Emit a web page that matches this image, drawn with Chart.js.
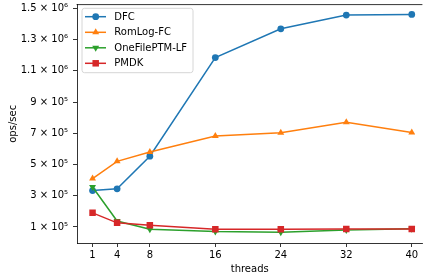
<!DOCTYPE html>
<html>
<head>
<meta charset="utf-8">
<script src="https://cdn.jsdelivr.net/npm/chart.js@4"></script>
<style>
  html, body { margin: 0; padding: 0; background: #fff; overflow: hidden; }
  body { width: 423px; height: 280px; }
  #wrap { width: 427px; height: 280px; position: relative; }
</style>
</head>
<body>
<div id="wrap"><canvas id="c"></canvas></div>
<script>
const threads = [1, 4, 8, 16, 24, 32, 40];
const seriesNames = ['DFC', 'RomLog-FC', 'OneFilePTM-LF', 'PMDK'];
const dfc = [333000, 344000, 553000, 1185000, 1369000, 1457000, 1461000];
const romlog = [410000, 520000, 580000, 683000, 703000, 771000, 705000];
const onefile = [356000, 138000, 85000, 70000, 66000, 80000, 88000];
const pmdk = [190000, 126000, 111000, 85000, 85000, 87000, 86000];
const xTicks = [1, 4, 8, 16, 24, 32, 40];
const yTicks = [100000, 300000, 500000, 700000, 900000, 1100000, 1300000, 1500000];
const yTickLabels = ['1 × 10⁵', '3 × 10⁵', '5 × 10⁵', '7 × 10⁵', '9 × 10⁵', '1.1 × 10⁶', '1.3 × 10⁶', '1.5 × 10⁶'];

const colors = ['#1f77b4', '#ff7f0e', '#2ca02c', '#d62728'];
const styles = ['circle', 'triangle', 'triangle', 'rect'];
const radii = [3.4, 4, 4, 4.6];
const rotations = [0, 0, 180, 0];
const values = [dfc, romlog, onefile, pmdk];

const FONT = 'DejaVu Sans';

const datasets = values.map((v, i) => ({
  label: seriesNames[i],
  data: threads.map((t, j) => ({ x: t, y: v[j] })),
  borderColor: colors[i],
  backgroundColor: colors[i],
  borderWidth: 1.5,
  pointStyle: styles[i],
  pointRadius: radii[i],
  pointRotation: rotations[i],
  pointBorderWidth: 0,
  pointBackgroundColor: colors[i],
  tension: 0,
  order: 4 - i
}));

function drawMarker(ctx, i, x, y) {
  Chart.helpers.drawPoint(ctx, {
    pointStyle: styles[i], radius: radii[i], rotation: rotations[i], borderWidth: 0
  }, x, y);
}

const extras = {
  id: 'extras',
  afterDraw(chart) {
    const ctx = chart.ctx;
    const a = chart.chartArea;
    ctx.save();
    // top spine
    ctx.strokeStyle = '#000';
    ctx.lineWidth = 0.8;
    ctx.beginPath();
    ctx.moveTo(a.left - 0.4, a.top);
    ctx.lineTo(a.right, a.top);
    ctx.stroke();
    // legend
    const bx = 82, by = 8.3, bw = 111, bh = 64.4, r = 2.5;
    ctx.beginPath();
    ctx.moveTo(bx + r, by);
    ctx.lineTo(bx + bw - r, by);
    ctx.arcTo(bx + bw, by, bx + bw, by + r, r);
    ctx.lineTo(bx + bw, by + bh - r);
    ctx.arcTo(bx + bw, by + bh, bx + bw - r, by + bh, r);
    ctx.lineTo(bx + r, by + bh);
    ctx.arcTo(bx, by + bh, bx, by + bh - r, r);
    ctx.lineTo(bx, by + r);
    ctx.arcTo(bx, by, bx + r, by, r);
    ctx.closePath();
    ctx.fillStyle = 'rgba(255,255,255,0.8)';
    ctx.fill();
    ctx.strokeStyle = '#d6d6d6';
    ctx.lineWidth = 1;
    ctx.stroke();
    const rowY = [16.7, 32.3, 47.8, 63.3];
    ctx.font = '10px "' + FONT + '"';
    ctx.textBaseline = 'middle';
    ctx.textAlign = 'left';
    for (let i = 0; i < 4; i++) {
      const y = rowY[i];
      ctx.strokeStyle = colors[i];
      ctx.lineWidth = 1.5;
      ctx.beginPath();
      ctx.moveTo(85, y);
      ctx.lineTo(106, y);
      ctx.stroke();
      ctx.fillStyle = colors[i];
      ctx.strokeStyle = colors[i];
      drawMarker(ctx, i, 95.7, y);
      ctx.fillStyle = '#000';
      ctx.fillText(seriesNames[i], 114.3, y + 0.5);
    }
    ctx.restore();
  }
};

Chart.defaults.font.family = FONT;
Chart.defaults.font.size = 10;
Chart.defaults.color = '#000';

new Chart(document.getElementById('c'), {
  type: 'line',
  data: { datasets },
  options: {
    responsive: true,
    maintainAspectRatio: false,
    devicePixelRatio: 1,
    animation: false,
    layout: { padding: { left: 0, right: 1, top: 3.4, bottom: 0 } },
    plugins: { legend: { display: false }, tooltip: { enabled: false } },
    scales: {
      x: {
        type: 'linear',
        min: -0.9,
        max: 41.3,
        afterBuildTicks(scale) { scale.ticks = xTicks.map(v => ({ value: v })); },
        afterFit(scale) { scale.height = 37; scale.paddingLeft = 0; scale.paddingRight = 0; },
        ticks: { autoSkip: false, maxRotation: 0, padding: 2, callback: v => String(v) },
        grid: { display: true, drawOnChartArea: false, drawTicks: true, tickLength: 4, color: '#000', lineWidth: 0.8 },
        border: { display: true, color: '#000', width: 0.8 },
        title: { display: true, text: 'threads', padding: { top: 0, bottom: 5 }, font: { size: 10 } }
      },
      y: {
        type: 'linear',
        min: -3000,
        max: 1524000,
        afterBuildTicks(scale) { scale.ticks = yTicks.map(v => ({ value: v })); },
        afterFit(scale) { scale.width = 77; scale.paddingTop = 0; scale.paddingBottom = 0; },
        ticks: { autoSkip: false, padding: 5, callback: (v) => { const k = yTicks.indexOf(v); return k >= 0 ? yTickLabels[k] : ''; } },
        grid: { display: true, drawOnChartArea: false, drawTicks: true, tickLength: 4, color: '#000', lineWidth: 0.8 },
        border: { display: true, color: '#000', width: 0.8 },
        title: { display: true, text: 'ops/sec', padding: { top: 7, bottom: 0 }, font: { size: 10 } }
      }
    }
  },
  plugins: [extras]
});
</script>
</body>
</html>
